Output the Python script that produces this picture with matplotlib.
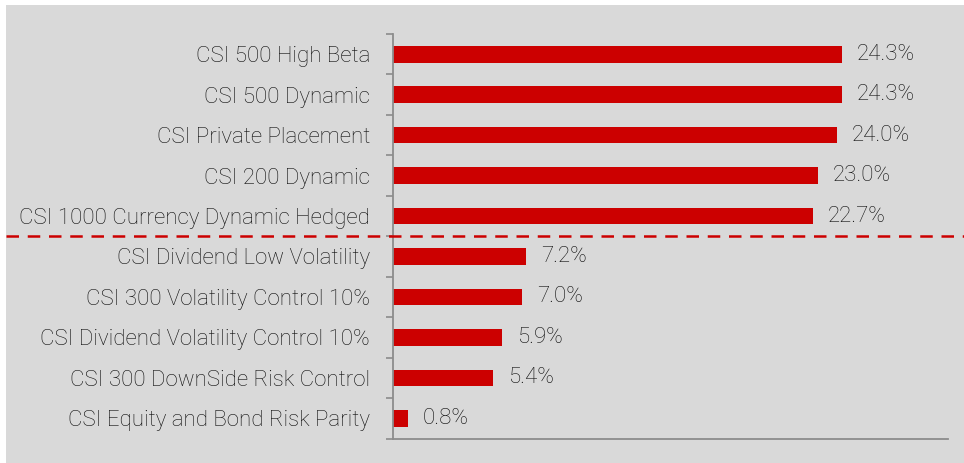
import matplotlib.pyplot as plt
from matplotlib.patches import Rectangle

# chart data, top to bottom as in the picture
names = ['CSI 500 High Beta', 'CSI 500 Dynamic', 'CSI Private Placement',
         'CSI 200 Dynamic', 'CSI 1000 Currency Dynamic Hedged',
         'CSI Dividend Low Volatility', 'CSI 300 Volatility Control 10%',
         'CSI Dividend Volatility Control 10%', 'CSI 300 DownSide Risk Control',
         'CSI Equity and Bond Risk Parity']
values = [24.3, 24.3, 24.0, 23.0, 22.7, 7.2, 7.0, 5.9, 5.4, 0.8]
split_after = 5          # dashed line sits between top group and bottom group

bg = '#d9d9d9'
red = '#cc0000'
txt = '#0d0d0d'
axis_grey = '#8c8c8c'
plt.rcParams['font.family'] = ['Roboto', 'DejaVu Sans']
fs = 16

fig = plt.figure(figsize=(9.64, 4.63), dpi=100, facecolor=bg)
# thin white margin on the left and top
fig.patches.append(Rectangle((0, 0), 6 / 964, 1, transform=fig.transFigure,
                             facecolor='white', edgecolor='none', zorder=-5))
fig.patches.append(Rectangle((0, 1 - 5 / 463), 1, 5 / 463, transform=fig.transFigure,
                             facecolor='white', edgecolor='none', zorder=-5))

ax = fig.add_axes([393 / 964, 1 - 438.5 / 463, (947.5 - 393) / 964, (438.5 - 34) / 463])
ax.set_facecolor(bg)
ax.patch.set_edgecolor('none')

n = len(names)
pos = list(range(n))
ax.barh(pos, values, height=0.41, color=red, zorder=2)
for p, v in zip(pos, values):
    ax.text(v + 0.8, p, f'{v:.1f}%', va='center', ha='left', fontsize=fs,
            color=txt, fontweight='light')

# labels sit at bar centres, ticks at category boundaries
ax.set_yticks(pos)
ax.set_yticklabels(names, fontsize=fs, color=txt, fontweight='light')
ax.tick_params(axis='y', length=0, pad=16.5)
ax.set_yticks([i - 0.5 for i in range(n + 1)], minor=True)
ax.tick_params(axis='y', which='minor', length=5, width=1.2, color=axis_grey, direction='out')
ax.set_xticks([])

ax.set_xlim(0, 30)
ax.set_ylim(n - 0.5, -0.5)

for s in ['top', 'right']:
    ax.spines[s].set_visible(False)
for s in ['left', 'bottom']:
    ax.spines[s].set_color(axis_grey)
    ax.spines[s].set_linewidth(1.3)

# dashed separator across the full figure width
y_line = 1 - (34 + (438.5 - 34) * split_after / n) / 463
fig.add_artist(plt.Line2D([6 / 964, 1], [y_line, y_line], transform=fig.transFigure,
                          color=red, linewidth=1.8, linestyle=(0, (5, 3.5)), zorder=5))

fig.savefig('out.png', dpi=100, facecolor=fig.get_facecolor())
